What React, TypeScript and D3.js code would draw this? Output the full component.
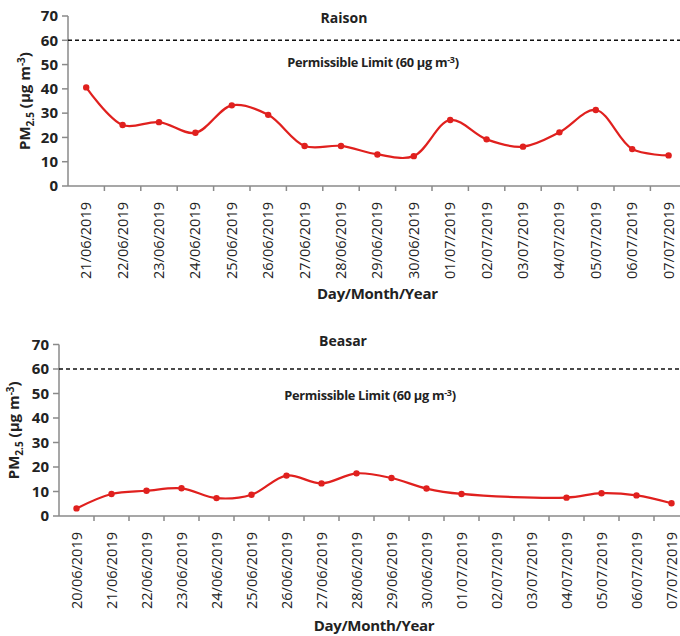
import React from 'react';
import * as d3 from 'd3';

const raisonDates = ['21/06/2019','22/06/2019','23/06/2019','24/06/2019','25/06/2019','26/06/2019','27/06/2019','28/06/2019','29/06/2019','30/06/2019','01/07/2019','02/07/2019','03/07/2019','04/07/2019','05/07/2019','06/07/2019','07/07/2019'];
const raisonValues: (number | null)[] = [40.6, 25.1, 26.3, 21.9, 33.2, 29.3, 16.5, 16.5, 13.0, 12.3, 27.2, 19.2, 16.2, 22.1, 31.3, 15.2, 12.6];

const beasarDates = ['20/06/2019','21/06/2019','22/06/2019','23/06/2019','24/06/2019','25/06/2019','26/06/2019','27/06/2019','28/06/2019','29/06/2019','30/06/2019','01/07/2019','02/07/2019','03/07/2019','04/07/2019','05/07/2019','06/07/2019','07/07/2019'];
const beasarValues: (number | null)[] = [3.1, 9.0, 10.3, 11.3, 7.3, 8.7, 16.5, 13.3, 17.4, 15.5, 11.2, 9.0, null, null, 7.5, 9.3, 8.4, 5.2];

const yTicks = [0, 10, 20, 30, 40, 50, 60, 70];
const permissibleLimit = 60;
const xAxisTitle = 'Day/Month/Year';

const RED = '#e0201e';
const FONT = '"Open Sans", "Liberation Sans", sans-serif';

type PanelProps = {
  title: string;
  dates: string[];
  values: (number | null)[];
  x0: number;
  x1: number;
  yTop: number;
  yBottom: number;
  titleY: number;
  limitLabelY: number;
  yLabelX: number;
  xLabelY: number;
  limitLabelX: number;
  titleX: number;
};

function Panel(p: PanelProps) {
  const x = d3.scaleBand<string>().domain(p.dates).range([p.x0, p.x1]).padding(0);
  const y = d3.scaleLinear().domain([0, 70]).range([p.yBottom, p.yTop]);
  const pts = p.dates
    .map((d, i) => ({ d, v: p.values[i] }))
    .filter((o) => o.v !== null) as { d: string; v: number }[];
  const line = d3
    .line<{ d: string; v: number }>()
    .x((o) => (x(o.d) as number) + x.bandwidth() / 2)
    .y((o) => y(o.v))
    .curve(d3.curveCatmullRom.alpha(0.5));
  const bw = x.bandwidth();
  const boundaries = p.dates.map((d) => (x(d) as number) + bw);
  const yMid = (p.yTop + p.yBottom) / 2;
  return (
    <g>
      {/* y axis */}
      <line x1={p.x0} x2={p.x0} y1={y(70)} y2={y(0)} stroke="#8a8a8a" strokeWidth={1.5} />
      {yTicks.map((t) => (
        <g key={t}>
          <line x1={p.x0 - 6} x2={p.x0} y1={y(t)} y2={y(t)} stroke="#8a8a8a" strokeWidth={1.5} />
          <text x={p.x0 - 10} y={y(t)} dy="0.35em" textAnchor="end" fontSize={15} fontWeight={700} fill="#222" fontFamily={FONT}>
            {t}
          </text>
        </g>
      ))}
      {/* x axis */}
      <line x1={p.x0} x2={p.x1} y1={y(0)} y2={y(0)} stroke="#8a8a8a" strokeWidth={1.5} />
      {boundaries.map((bx, i) => (
        <line key={i} x1={bx} x2={bx} y1={y(0)} y2={y(0) + 5} stroke="#8a8a8a" strokeWidth={1.5} />
      ))}
      {p.dates.map((d) => {
        const cx = (x(d) as number) + bw / 2;
        const ty = y(0) + 16;
        return (
          <text key={d} transform={`translate(${cx},${ty}) rotate(-90)`} dy="0.35em" textAnchor="end" fontSize={14.5} fontWeight={500} fill="#222" fontFamily={FONT}>
            {d}
          </text>
        );
      })}
      {/* limit */}
      <line x1={p.x0} x2={680} y1={y(permissibleLimit)} y2={y(permissibleLimit)} stroke="#111" strokeWidth={1.5} strokeDasharray="4,3" />
      <text x={p.titleX} y={p.titleY} dy="0.35em" textAnchor="middle" fontSize={14} fontWeight={700} fill="#222" fontFamily={FONT}>
        {p.title}
      </text>
      <text x={p.limitLabelX} y={p.limitLabelY} dy="0.35em" textAnchor="middle" fontSize={12.8} fontWeight={700} fill="#222" fontFamily={FONT} letterSpacing={-0.3}>
        Permissible Limit (60 µg m
        <tspan fontSize={9} dy={-4}>-3</tspan>
        <tspan dy={4}>)</tspan>
      </text>
      {/* y label */}
      <text transform={`translate(${p.yLabelX},${yMid}) rotate(-90)`} dy="0.35em" textAnchor="middle" fontSize={15} fontWeight={700} fill="#222" fontFamily={FONT}>
        PM<tspan fontSize={10} dy={4}>2.5</tspan>
        <tspan dy={-4}> (µg m</tspan>
        <tspan fontSize={10} dy={-5}>-3</tspan>
        <tspan dy={5}>)</tspan>
      </text>
      {/* x label */}
      <text x={(p.x0 + p.x1) / 2} y={p.xLabelY} dy="0.35em" textAnchor="middle" fontSize={15} fontWeight={700} fill="#222" fontFamily={FONT} letterSpacing={-0.3}>
        {xAxisTitle}
      </text>
      {/* series */}
      <path d={line(pts) || ''} fill="none" stroke={RED} strokeWidth={2.2} />
      {pts.map((o) => (
        <circle key={o.d} cx={(x(o.d) as number) + bw / 2} cy={y(o.v)} r={3.2} fill={RED} />
      ))}
    </g>
  );
}

export default function App() {
  return (
    <svg width={680} height={636} style={{ position: 'absolute', left: 0, top: 0, background: '#fff' }}>
      <rect width={680} height={636} fill="#fff" />
      <Panel
        title="Raison"
        dates={raisonDates}
        values={raisonValues}
        x0={68}
        x1={686.8}
        yTop={16}
        yBottom={186}
        titleY={18}
        titleX={344}
        limitLabelY={63}
        limitLabelX={373}
        yLabelX={25}
        xLabelY={294}
      />
      <Panel
        title="Beasar"
        dates={beasarDates}
        values={beasarValues}
        x0={59}
        x1={689}
        yTop={344.5}
        yBottom={516}
        titleY={341}
        titleX={343}
        limitLabelY={396}
        limitLabelX={370}
        yLabelX={14}
        xLabelY={626}
      />
    </svg>
  );
}
